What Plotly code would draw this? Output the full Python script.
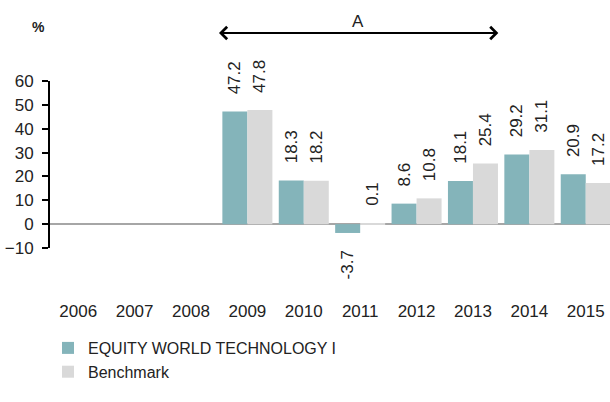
import plotly.graph_objects as go

years = ["2006", "2007", "2008", "2009", "2010", "2011", "2012", "2013", "2014", "2015"]
fund = [None, None, None, 47.2, 18.3, -3.7, 8.6, 18.1, 29.2, 20.9]
bench = [None, None, None, 47.8, 18.2, 0.1, 10.8, 25.4, 31.1, 17.2]
fund_name = "EQUITY WORLD TECHNOLOGY I"
bench_name = "Benchmark"
y_ticks = [-10, 0, 10, 20, 30, 40, 50, 60]

FONT = "Liberation Sans"
TXT = "#222222"
FS = 17
PAD = "\u00a0" * 3


def labels(vals):
    out = []
    for v in vals:
        if v is None:
            out.append("")
        elif v >= 0:
            out.append(PAD + f"{v}")
        else:
            out.append(f"{v}" + PAD)
    return out


fig = go.Figure()
fig.add_trace(go.Bar(x=years, y=fund, name=fund_name, marker_color="#84b4ba",
                     marker_line_width=0,
                     text=labels(fund), textposition="outside", textangle=-90,
                     textfont=dict(size=FS, color=TXT, family=FONT), cliponaxis=False))
fig.add_trace(go.Bar(x=years, y=bench, name=bench_name, marker_color="#d9d9d9",
                     marker_line_width=0,
                     text=labels(bench), textposition="outside", textangle=-90,
                     textfont=dict(size=FS, color=TXT, family=FONT), cliponaxis=False))

fig.update_layout(
    width=610, height=402,
    margin=dict(l=50, r=0, t=81, b=154, autoexpand=False),
    plot_bgcolor="white", paper_bgcolor="white",
    barmode="group", bargap=0.113, bargroupgap=0,
    font=dict(family=FONT, size=FS, color=TXT),
    showlegend=True,
    legend=dict(xref="container", yref="container", x=48 / 610, y=1 - 331 / 402,
                xanchor="left", yanchor="top", font=dict(size=16, color=TXT),
                tracegroupgap=0, itemclick=False, bgcolor="rgba(0,0,0,0)"),
    xaxis=dict(type="category", range=[-0.5, 9.43], showline=False, showgrid=False,
               ticks="outside", ticklen=48, tickcolor="rgba(0,0,0,0)", tickangle=0,
               automargin=False, tickfont=dict(size=FS, color=TXT)),
    yaxis=dict(range=[-10, 60], tickvals=y_ticks, showgrid=False, automargin=False,
               showline=True, linecolor="black", linewidth=2,
               ticks="outside", ticklen=6, tickwidth=2, tickcolor="black",
               ticklabelstandoff=5,
               zeroline=True, zerolinecolor="#a6a6a6", zerolinewidth=2,
               tickfont=dict(size=FS, color=TXT)),
)
fig.update_traces(constraintext="none")

# double-headed arrow "A"
span_start, span_end = 2.47, 7.45
px_per_cat = 560 / 9.93
fig.add_annotation(x=span_end, y=(248 - 33) / 167, xref="x", yref="paper",
                   ax=-(span_end - span_start) * px_per_cat, ay=0,
                   axref="pixel", ayref="pixel", showarrow=True, arrowhead=4, startarrowhead=4,
                   arrowside="end+start", arrowsize=1.2, startarrowsize=1.2,
                   arrowwidth=2, arrowcolor="black", text="")
fig.add_annotation(x=(span_start + span_end) / 2, y=(248 - 21) / 167, xref="x", yref="paper",
                   text="A", showarrow=False, xanchor="center", yanchor="middle",
                   font=dict(size=FS, color=TXT, family=FONT))
fig.add_annotation(x=(38 - 50) / 560, y=(248 - 27) / 167, xref="paper", yref="paper",
                   text="<b>%</b>", showarrow=False, xanchor="center", yanchor="middle",
                   font=dict(size=14, color=TXT, family=FONT))

fig.write_html("out.html", config={"displayModeBar": False},
               post_script="document.body.style.margin='0px';")
